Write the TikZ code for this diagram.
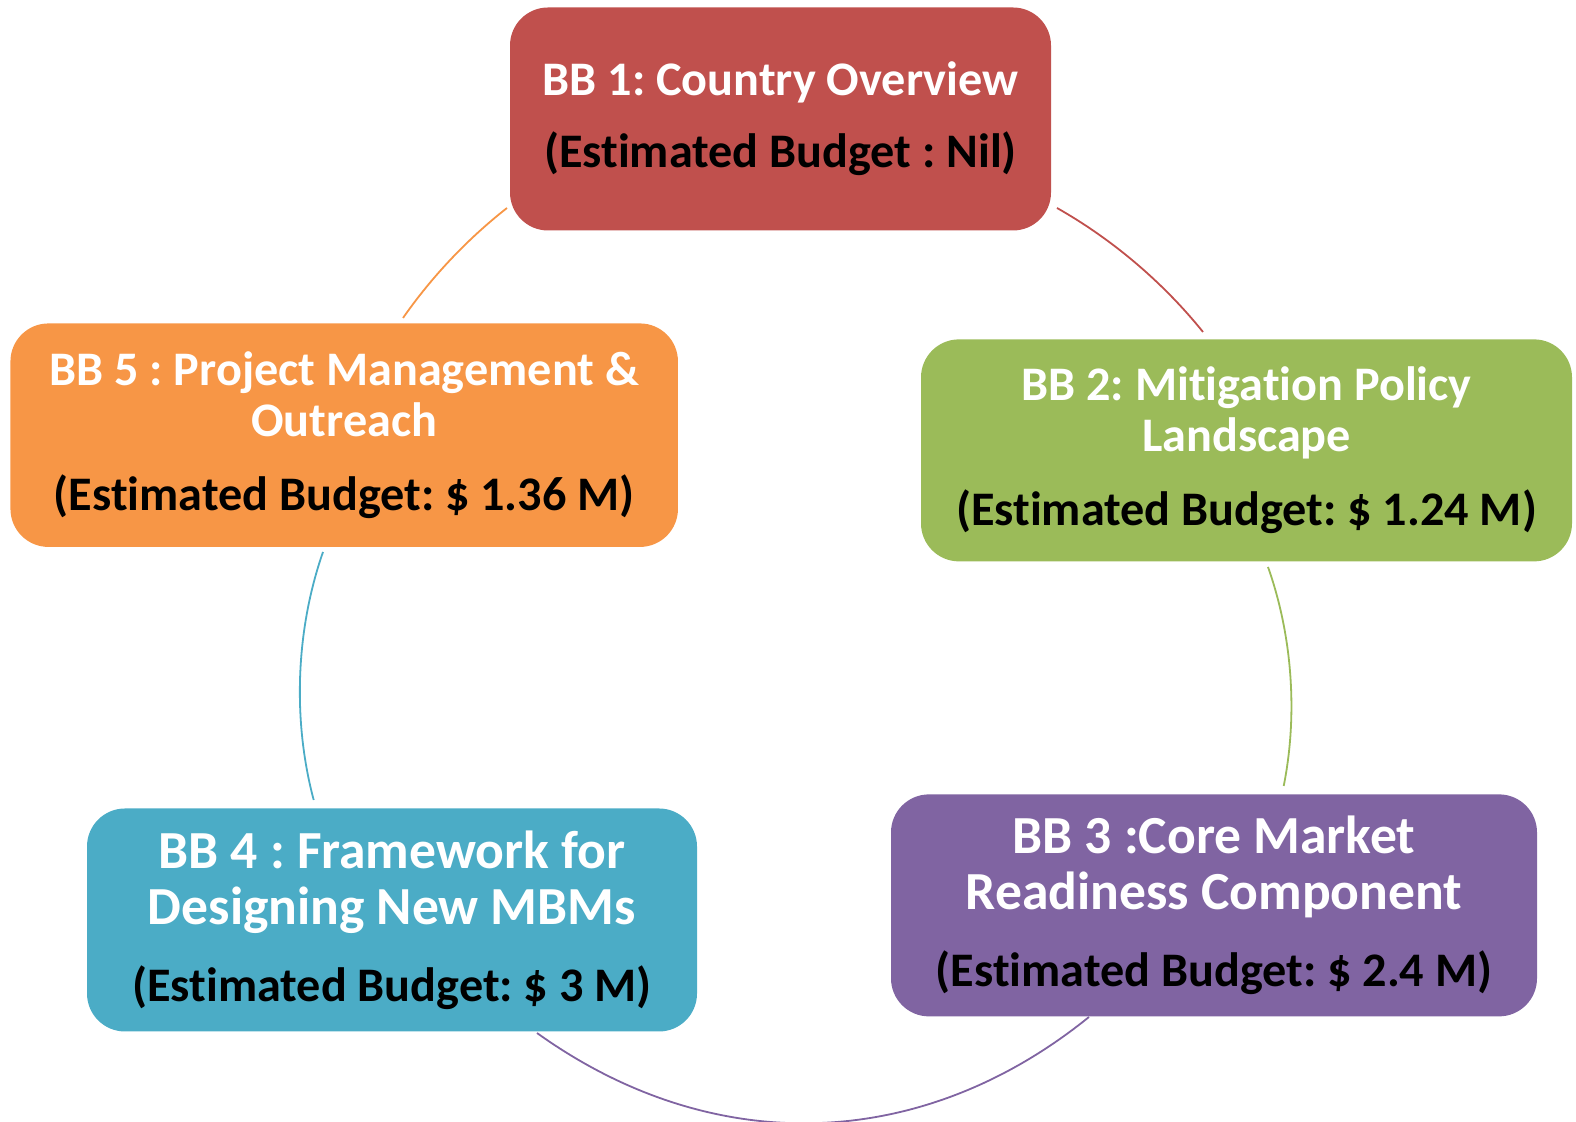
\documentclass[tikz,border=0pt]{standalone}
\usepackage{fontspec}
\setmainfont{Carlito}[Ligatures=NoCommon]
\definecolor{bbred}{HTML}{C0504D}
\definecolor{bbgreen}{HTML}{9BBB59}
\definecolor{bbpurple}{HTML}{8064A2}
\definecolor{bbblue}{HTML}{4BACC6}
\definecolor{bborange}{HTML}{F79646}
\frenchspacing
\begin{document}
\begin{tikzpicture}[x=1pt,y=1pt,
  bbbox/.style={rectangle, rounded corners=19pt, inner sep=0pt, align=center, text=white,
    font=\frenchspacing\bfseries\fontsize{24.1}{25.5}\selectfont},
  bbbig/.style={bbbox, font=\frenchspacing\bfseries\fontsize{26.8}{28}\selectfont},
  arcline/.style={line width=0.9pt, looseness=0.85}]
\useasboundingbox (0,0) rectangle (788,561);

% boxes
\node[bbbox, fill=bbred, minimum width=270.5pt, minimum height=111.5pt] (bb1) at (390.25,501.5)
  {BB 1: Country Overview\\[10.5pt]\textcolor{black}{(Estimated Budget : Nil)}};
\node[bbbox, fill=bbgreen, minimum width=325.5pt, minimum height=111pt] (bb2) at (623.25,335.8)
  {BB 2: Mitigation Policy\\Landscape\\[11.5pt]\textcolor{black}{(Estimated Budget: \$ 1.24 M)}};
\node[bbbig, fill=bbpurple, minimum width=323pt, minimum height=111pt] (bb3) at (607,108.3)
  {BB 3 :Core Market\\Readiness Component\\[10.5pt]{\fontsize{24.1}{28}\selectfont\color{black}(Estimated Budget: \$ 2.4 M)}};
\node[bbbig, fill=bbblue, minimum width=305pt, minimum height=111.5pt] (bb4) at (196,101)
  {BB 4 : Framework for\\Designing New MBMs\\[10.5pt]{\fontsize{24.1}{28}\selectfont\color{black}(Estimated Budget: \$ 3 M)}};
\node[bbbox, fill=bborange, minimum width=333.75pt, minimum height=111.75pt] (bb5) at (172.1,343.4)
  {BB 5 : Project Management \&\\Outreach\\[11.5pt]\textcolor{black}{(Estimated Budget: \$ 1.36 M)}};

% arc end points
\coordinate (a12s) at (528.5,457);
\coordinate (a12e) at (601.5,395);
\coordinate (a23s) at (634,277.5);
\coordinate (a23e) at (641.85,168);
\coordinate (a34s) at (544.5,52.5);
\coordinate (a34e) at (268.5,44.5);
\coordinate (a45s) at (156.85,161);
\coordinate (a45e) at (161.5,285);
\coordinate (a51s) at (201.5,402);
\coordinate (a51e) at (253.5,457);

% connectors
\draw[arcline, draw=bbred] (a12s) to[bend left=10.8] (a12e);
\draw[arcline, draw=bbgreen] (a23s) to[bend left=15.4] (a23e);
\draw[arcline, draw=bbpurple, looseness=1.0] (a34s) to[bend left=37.3] (a34e);
\draw[arcline, draw=bbblue] (a45s) to[bend left=17.1] (a45e);
\draw[arcline, draw=bborange] (a51s) to[bend left=8.5] (a51e);
\end{tikzpicture}
\end{document}
